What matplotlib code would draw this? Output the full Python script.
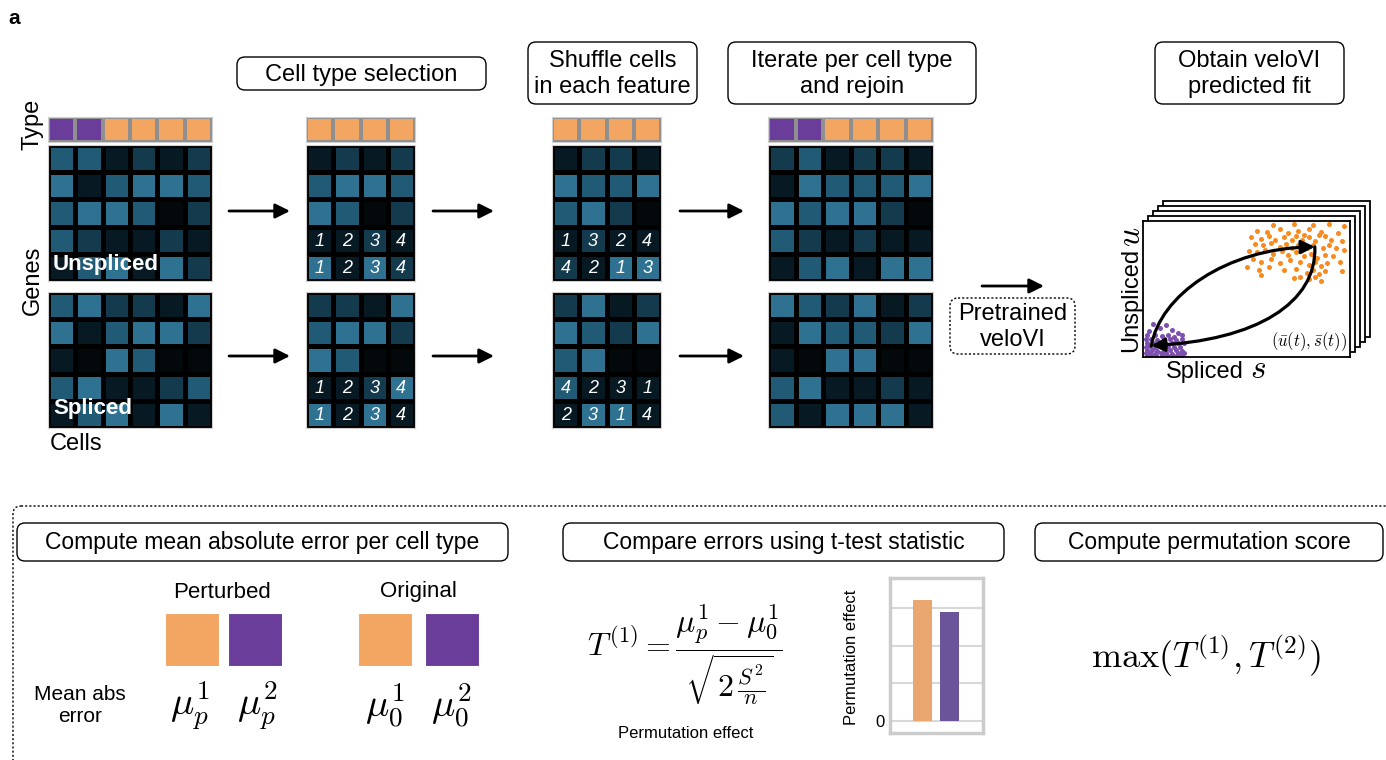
import numpy as np
import matplotlib
matplotlib.use("Agg")
import matplotlib.pyplot as plt
from matplotlib.colors import ListedColormap
from matplotlib.patches import FancyBboxPatch, Rectangle, FancyArrowPatch
from matplotlib.path import Path

plt.rcParams['font.family'] = ['Liberation Sans', 'DejaVu Sans']
plt.rcParams['mathtext.fontset'] = 'cm'

# ---------------- data ----------------
# expression levels (0 = black ... 4 = light blue)
orig_unspliced = [[3, 3, 1, 2, 1, 2],
                  [4, 1, 3, 4, 4, 3],
                  [3, 4, 4, 3, 0, 2],
                  [3, 2, 1, 1, 2, 1],
                  [1, 3, 4, 1, 4, 2]]
orig_spliced = [[3, 4, 2, 2, 1, 4],
                [4, 1, 3, 4, 4, 2],
                [1, 0, 4, 3, 0, 0],
                [3, 4, 1, 1, 2, 3],
                [1, 3, 4, 1, 4, 1]]
sel_unspliced = [[1, 2, 1, 2],
                 [3, 4, 4, 3],
                 [4, 3, 0, 2],
                 [1, 1, 2, 1],
                 [4, 1, 4, 2]]
sel_spliced = [[2, 2, 1, 4],
               [3, 4, 4, 2],
               [4, 3, 0, 0],
               [1, 1, 2, 4],
               [4, 1, 4, 1]]
shuf_unspliced = [[1, 2, 2, 1],
                  [4, 3, 3, 4],
                  [3, 4, 2, 0],
                  [1, 2, 1, 1],
                  [2, 1, 4, 4]]
shuf_spliced = [[2, 4, 1, 2],
                [4, 3, 2, 4],
                [3, 4, 0, 0],
                [3, 1, 1, 1],
                [1, 4, 4, 1]]
rejoin_unspliced = [[2, 3, 1, 2, 2, 1],
                    [1, 4, 3, 3, 3, 4],
                    [4, 3, 4, 4, 2, 0],
                    [3, 2, 1, 2, 1, 1],
                    [1, 3, 4, 1, 4, 4]]
rejoin_spliced = [[4, 3, 2, 4, 1, 2],
                  [1, 4, 3, 3, 2, 4],
                  [1, 0, 4, 4, 0, 0],
                  [3, 4, 1, 1, 2, 1],
                  [3, 1, 4, 4, 4, 1]]
cell_types_all = [0, 0, 1, 1, 1, 1]   # 0 = purple type, 1 = orange type
cell_types_sel = [1, 1, 1, 1]

sel_labels_u = [["1", "2", "3", "4"], ["1", "2", "3", "4"]]
sel_labels_s = [["1", "2", "3", "4"], ["1", "2", "3", "4"]]
shuf_labels_u = [["1", "3", "2", "4"], ["4", "2", "1", "3"]]
shuf_labels_s = [["4", "2", "3", "1"], ["2", "3", "1", "4"]]

# scatter: spliced (x) / unspliced (y), axis-fraction units
orange_s = [0.63, 0.73, 0.82, 0.90, 0.97,
            0.55, 0.60, 0.66, 0.70, 0.75, 0.78, 0.80, 0.86, 0.88, 0.94,
            0.52, 0.57, 0.61, 0.64, 0.68, 0.72, 0.74, 0.77, 0.80, 0.83, 0.85, 0.91, 0.96,
            0.54, 0.58, 0.62, 0.66, 0.69, 0.72, 0.75, 0.79, 0.82, 0.87, 0.90, 0.93, 0.97,
            0.51, 0.55, 0.59, 0.63, 0.67, 0.70, 0.74, 0.78, 0.81, 0.84, 0.88, 0.92,
            0.53, 0.57, 0.62, 0.66, 0.71, 0.76, 0.80, 0.83, 0.86, 0.89, 0.95,
            0.50, 0.56, 0.61, 0.68, 0.74, 0.79, 0.82, 0.85, 0.88, 0.96,
            0.57, 0.73, 0.76, 0.80, 0.83, 0.86]
orange_u = [0.97, 0.98, 0.97, 0.98, 0.96,
            0.93, 0.92, 0.94, 0.91, 0.93, 0.90, 0.94, 0.92, 0.89, 0.91,
            0.88, 0.87, 0.89, 0.86, 0.88, 0.86, 0.89, 0.86, 0.88, 0.85, 0.90, 0.86, 0.85,
            0.83, 0.82, 0.84, 0.81, 0.83, 0.80, 0.82, 0.80, 0.82, 0.80, 0.82, 0.80, 0.79,
            0.78, 0.77, 0.79, 0.76, 0.78, 0.75, 0.77, 0.74, 0.76, 0.73, 0.75, 0.74,
            0.72, 0.70, 0.72, 0.69, 0.71, 0.70, 0.68, 0.70, 0.67, 0.69, 0.70,
            0.66, 0.64, 0.66, 0.64, 0.65, 0.62, 0.64, 0.61, 0.63, 0.63,
            0.60, 0.58, 0.59, 0.57, 0.59, 0.56]
purple_s = [0.05, 0.11, 0.08, 0.14, 0.03, 0.17,
            0.02, 0.06, 0.09, 0.12, 0.15, 0.19,
            0.015, 0.04, 0.07, 0.10, 0.13, 0.16, 0.19,
            0.02, 0.05, 0.08, 0.11, 0.14, 0.17, 0.20,
            0.015, 0.035, 0.06, 0.09, 0.12, 0.15, 0.18,
            0.02, 0.045, 0.07, 0.10, 0.13, 0.16, 0.19,
            0.015, 0.035, 0.06, 0.085, 0.11, 0.14, 0.17, 0.20,
            0.02, 0.04, 0.065, 0.09, 0.115, 0.14, 0.165, 0.19]
purple_u = [0.24, 0.235, 0.21, 0.20, 0.19, 0.18,
            0.16, 0.165, 0.155, 0.16, 0.15, 0.16,
            0.13, 0.135, 0.125, 0.13, 0.135, 0.125, 0.13,
            0.10, 0.105, 0.10, 0.095, 0.105, 0.10, 0.10,
            0.075, 0.08, 0.07, 0.075, 0.08, 0.07, 0.075,
            0.05, 0.055, 0.045, 0.05, 0.055, 0.05, 0.045,
            0.03, 0.03, 0.025, 0.03, 0.03, 0.025, 0.03, 0.03,
            0.012, 0.012, 0.012, 0.012, 0.012, 0.012, 0.012, 0.012]

# fitted trajectory (Bezier control points, axis fraction)
fit_up_s = [0.04, 0.08, 0.40, 0.83]
fit_up_u = [0.08, 0.45, 0.80, 0.81]
fit_down_s = [0.83, 0.84, 0.55, 0.04]
fit_down_u = [0.81, 0.40, 0.12, 0.085]

perm_effect = [3.23, 2.90]

# ---------------- styling ----------------
W, H = 1386, 760
BLUES = ['#03080b', '#071a23', '#143a4e', '#215a74', '#2e7191']
ORANGE = '#f3a562'
PURPLE = '#6a3d9a'
cmap_expr = ListedColormap(BLUES)
cmap_type = ListedColormap([PURPLE, ORANGE])

fig = plt.figure(figsize=(W / 100, H / 100), dpi=100)
ax = fig.add_axes([0, 0, 1, 1])
ax.set_xlim(0, W)
ax.set_ylim(H, 0)
ax.axis('off')


def sub(x0, y0, x1, y1):
    return fig.add_axes([x0 / W, 1 - y1 / H, (x1 - x0) / W, (y1 - y0) / H])


def clean(a):
    a.set_xticks([])
    a.set_yticks([])


def heat(x0, x1, y0, y1, data, labels=None):
    a = sub(x0, y0, x1, y1)
    arr = np.array(data)
    a.pcolormesh(arr, cmap=cmap_expr, vmin=-0.5, vmax=4.5,
                 edgecolors='black', linewidth=2.2)
    a.set_xlim(0, arr.shape[1])
    a.set_ylim(arr.shape[0], 0)
    clean(a)
    for sp in a.spines.values():
        sp.set_color('#d0d0d0')
        sp.set_linewidth(0.8)
    if labels is not None:
        for r, row in enumerate(labels):
            for c, lab in enumerate(row):
                a.text(c + 0.5, arr.shape[0] - 2 + r + 0.55, lab, color='white',
                       fontsize=13, style='italic', ha='center', va='center')
    return a


def typebar(x0, x1, y0, y1, types):
    a = sub(x0, y0, x1, y1)
    arr = np.array([types])
    a.pcolormesh(arr, cmap=cmap_type, vmin=-0.5, vmax=1.5,
                 edgecolors='#8f8f8f', linewidth=1.5)
    a.set_xlim(0, arr.shape[1])
    a.set_ylim(1, 0)
    clean(a)
    for sp in a.spines.values():
        sp.set_color('#d0d0d0')
        sp.set_linewidth(0.8)


def box(x0, y0, x1, y1, text, fs, ls='-', lw=1.0):
    p = FancyBboxPatch((x0, y0), x1 - x0, y1 - y0,
                       boxstyle='round,pad=0,rounding_size=8',
                       fc='white', ec='black', lw=lw, ls=ls)
    ax.add_patch(p)
    ax.text((x0 + x1) / 2, (y0 + y1) / 2 + 1, text, ha='center', va='center',
            fontsize=fs, linespacing=1.25)


def arrow(x0, x1, y):
    ax.annotate('', xy=(x1, y), xytext=(x0, y),
                arrowprops=dict(arrowstyle='-|>', lw=2, color='black',
                                mutation_scale=22, shrinkA=0, shrinkB=0))


# panel label
ax.text(8, 18, 'a', fontsize=15, fontweight='bold', ha='left', va='center')

# header boxes
box(237, 57, 486, 90, 'Cell type selection', 17)
box(528, 42, 697, 104, 'Shuffle cells\nin each feature', 17)
box(728, 42, 976, 104, 'Iterate per cell type\nand rejoin', 17)
box(1155, 42, 1344, 104, 'Obtain veloVI\npredicted fit', 17)

# panel 1 : original
TY0, TY1, UY0, UY1, SY0, SY1 = 117, 142, 145, 281, 292, 428
typebar(48, 212, TY0, TY1, cell_types_all)
heat(48, 212, UY0, UY1, orig_unspliced)
heat(48, 212, SY0, SY1, orig_spliced)
fig.text(53 / W, 1 - 265 / H, 'Unspliced', color='white', fontsize=16,
         fontweight='bold', ha='left', va='center', zorder=10)
fig.text(53 / W, 1 - 409 / H, 'Spliced', color='white', fontsize=16,
         fontweight='bold', ha='left', va='center', zorder=10)
ax.text(33, 124, 'Type', rotation=90, fontsize=17, ha='center', va='center')
ax.text(33, 280, 'Genes', rotation=90, fontsize=17, ha='center', va='center')
ax.text(50, 444, 'Cells', fontsize=17, ha='left', va='center')

# panel 2 : selection
typebar(306, 415, TY0, TY1, cell_types_sel)
heat(306, 415, UY0, UY1, sel_unspliced, sel_labels_u)
heat(306, 415, SY0, SY1, sel_spliced, sel_labels_s)

# panel 3 : shuffled
typebar(552, 661, TY0, TY1, cell_types_sel)
heat(552, 661, UY0, UY1, shuf_unspliced, shuf_labels_u)
heat(552, 661, SY0, SY1, shuf_spliced, shuf_labels_s)

# panel 4 : rejoined
typebar(768, 933, TY0, TY1, cell_types_all)
heat(768, 933, UY0, UY1, rejoin_unspliced)
heat(768, 933, SY0, SY1, rejoin_spliced)

# arrows
for x0, x1 in [(229, 290), (433, 494), (680, 744)]:
    arrow(x0, x1, 211)
    arrow(x0, x1, 356)
arrow(982, 1044, 286)
box(950, 298, 1075, 354, 'Pretrained\nveloVI', 17, ls=(0, (1.5, 1.5)))

# scatter panel with stacked frames
FX0, FY0, FX1, FY1 = 1143, 221, 1350, 357
for k in [4, 3, 2, 1]:
    ax.add_patch(Rectangle((FX0 + 5 * k, FY0 - 5 * k), FX1 - FX0, FY1 - FY0,
                           fc='white', ec='black', lw=1.3))
axs = sub(FX0, FY0, FX1, FY1)
axs.set_xlim(0, 1)
axs.set_ylim(0, 1)
clean(axs)
for sp in axs.spines.values():
    sp.set_linewidth(1.3)
axs.scatter(orange_s, orange_u, s=13, color='#f98b1e', linewidths=0)
axs.scatter(purple_s, purple_u, s=13, color='#7d4fb0', linewidths=0)
codes = [Path.MOVETO, Path.CURVE4, Path.CURVE4, Path.CURVE4]
for xs, ys in [(fit_up_s, fit_up_u), (fit_down_s, fit_down_u)]:
    pth = Path(list(zip(xs, ys)), codes)
    axs.add_patch(FancyArrowPatch(path=pth, arrowstyle='-|>', lw=2.3,
                                  color='black', mutation_scale=20,
                                  transform=axs.transData))
axs.text(0.985, 0.03, r'$(\bar{u}(t),\bar{s}(t))$', fontsize=12,
         ha='right', va='bottom', transform=axs.transAxes)
ax.text(1131, 300, 'Unspliced', rotation=90, fontsize=17,
        ha='center', va='center')
ax.text(1131, 237, r'$u$', rotation=90, fontsize=24, ha='center', va='center')
ax.text(1205, 372, 'Spliced', fontsize=17, ha='center', va='center')
ax.text(1258, 369, r'$s$', fontsize=24, ha='center', va='center')

# ---------------- bottom section ----------------
ax.add_patch(FancyBboxPatch((13, 506), 1420, 300,
                            boxstyle='round,pad=0,rounding_size=8',
                            fc='none', ec='black', lw=1.0, ls=(0, (1.5, 1.5))))
box(17, 523, 508, 561, 'Compute mean absolute error per cell type', 16.5)
box(563, 523, 1004, 561, 'Compare errors using t-test statistic', 16.5)
box(1035, 523, 1383, 561, 'Compute permutation score', 16.5)

ax.text(222, 592, 'Perturbed', fontsize=16, ha='center', va='center')
ax.text(418, 592, 'Original', fontsize=16, ha='center', va='center')
for x0, col in [(165, ORANGE), (228, PURPLE), (358, ORANGE), (425, PURPLE)]:
    ax.add_patch(Rectangle((x0, 613), 54, 53, fc=col, ec='white', lw=0.8))
ax.text(80, 706, 'Mean abs\nerror', fontsize=15, ha='center', va='center',
        linespacing=1.2)
for x, s in [(190, r'$\mu_p^1$'), (257, r'$\mu_p^2$'),
             (385, r'$\mu_0^1$'), (451, r'$\mu_0^2$')]:
    ax.text(x, 706, s, fontsize=28, ha='center', va='center')

ax.text(685, 655, r'$T^{(1)} = \dfrac{\mu_p^1 - \mu_0^1}{\sqrt{2\,\frac{S^2}{n}}}$',
        fontsize=23, ha='center', va='center')
ax.text(686, 734, 'Permutation effect', fontsize=12, ha='center', va='center')

# small bar chart
axb = sub(890, 578, 983, 733)
axb.bar([0, 1], perm_effect, width=0.72, color=['#e9a76f', '#6b5499'], zorder=3)
axb.set_xlim(-1.23, 2.28)
axb.set_ylim(-0.32, 3.81)
axb.set_xticks([])
axb.set_yticks([0, 1, 2, 3])
axb.set_yticklabels(['0', '', '', ''], fontsize=12)
axb.tick_params(axis='y', length=0, pad=4)
axb.yaxis.grid(True, color='#d8d8d8', lw=1.5, zorder=0)
axb.set_axisbelow(True)
for sp in axb.spines.values():
    sp.set_color('#cccccc')
    sp.set_linewidth(2.5)
ax.text(852, 657, 'Permutation effect', rotation=90, fontsize=12,
        ha='center', va='center')

ax.text(1206, 656, r'$\max(T^{(1)}, T^{(2)})$', fontsize=26,
        ha='center', va='center')

fig.savefig('out.png', dpi=100)
